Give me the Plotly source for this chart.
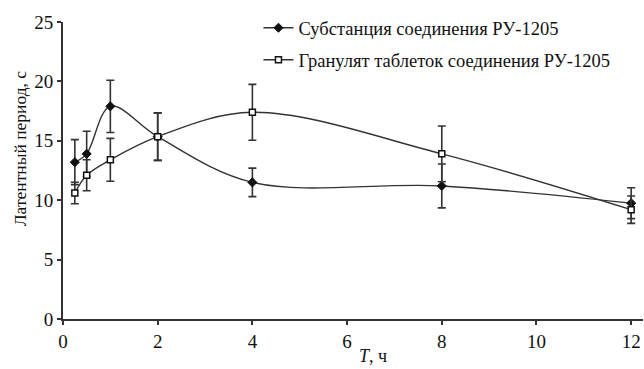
import plotly.graph_objects as go

t_vals = [0.25, 0.5, 1, 2, 4, 8, 12]
subst_mean = [13.2, 13.9, 17.9, 15.35, 11.5, 11.2, 9.75]
subst_err = [1.9, 1.9, 2.2, 2.0, 1.2, 1.85, 1.3]
gran_mean = [10.6, 12.1, 13.4, 15.35, 17.4, 13.9, 9.2]
gran_err = [0.9, 1.3, 1.8, 2.0, 2.35, 2.35, 1.15]
series_names = ["Субстанция соединения РУ-1205", "Гранулят таблеток соединения РУ-1205"]
x_ticks = [0, 2, 4, 6, 8, 10, 12]
y_ticks = [0, 5, 10, 15, 20, 25]
x_title = "<i>T</i>, ч"
y_title = "Латентный период, с"

ink = "#333333"
font_family = "Liberation Serif"

fig = go.Figure()
fig.add_trace(go.Scatter(
    x=t_vals, y=subst_mean, name=series_names[0], mode="lines+markers",
    legendgroup="a",
    line=dict(color=ink, width=1.4, shape="spline", smoothing=1.0),
    marker=dict(symbol="diamond", size=7, color="#111111", line=dict(color="#111111", width=1)),
    error_y=dict(type="data", array=subst_err, color=ink, thickness=1.6, width=4),
))
fig.add_trace(go.Scatter(
    x=t_vals, y=gran_mean, name=series_names[1], mode="lines+markers",
    legendgroup="b",
    line=dict(color=ink, width=1.4, shape="spline", smoothing=1.0),
    marker=dict(symbol="square", size=6, color="white", line=dict(color="#111111", width=1.5)),
    error_y=dict(type="data", array=gran_err, color=ink, thickness=1.6, width=4),
))

fig.update_layout(
    width=644, height=369,
    margin=dict(l=63, r=1, t=22, b=50),
    paper_bgcolor="white", plot_bgcolor="white",
    font=dict(family=font_family, size=18, color="#111111"),
    showlegend=True,
    legend=dict(x=0.337, y=1.043, xanchor="left", yanchor="top",
                bgcolor="rgba(0,0,0,0)", font=dict(size=18.5, family=font_family),
                itemwidth=30, traceorder="grouped", tracegroupgap=5),
    xaxis=dict(range=[0, 12.25], tickvals=x_ticks, ticks="outside", ticklen=4,
               tickwidth=1.5, tickcolor=ink, showline=True, linecolor=ink, linewidth=1.8,
               showgrid=False, zeroline=False, tickfont=dict(size=19)),
    yaxis=dict(range=[0, 25], tickvals=y_ticks, ticks="outside", ticklen=4,
               tickwidth=1.5, tickcolor=ink, showline=True, linecolor=ink, linewidth=1.8,
               showgrid=False, zeroline=False, tickfont=dict(size=19)),
    annotations=[
        dict(text=x_title, xref="paper", yref="paper",
             x=0.534, y=-0.125, xanchor="center", yanchor="middle",
             showarrow=False, font=dict(size=18)),
        dict(text=y_title, xref="paper", yref="paper", textangle=-90,
             x=-0.074, y=0.575, xanchor="center", yanchor="middle",
             showarrow=False, font=dict(size=17.5)),
    ],
)

fig.write_html("out.html")
